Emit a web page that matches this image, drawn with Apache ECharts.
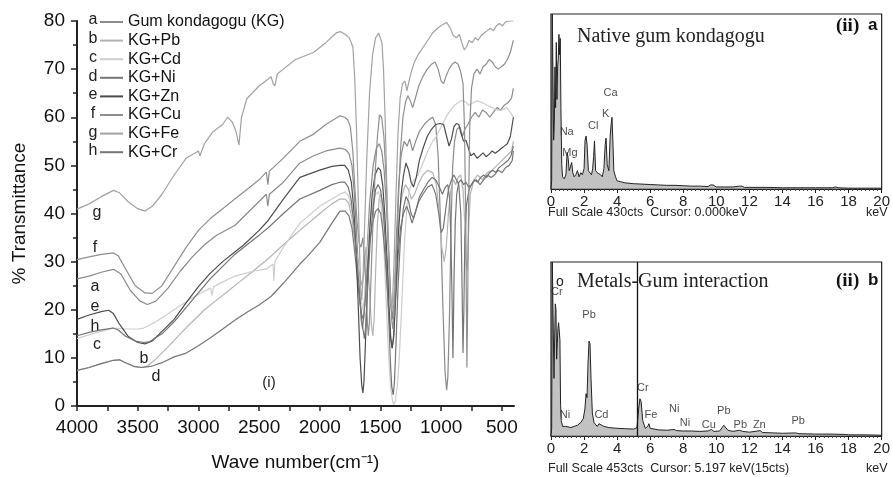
<!DOCTYPE html>
<html>
<head>
<meta charset="utf-8">
<script src="https://cdn.jsdelivr.net/npm/echarts@6/dist/echarts.min.js"></script>
<style>
  html, body { margin: 0; padding: 0; background: #fff; }
  #chart { width: 893px; height: 477px; }
</style>
</head>
<body>
<div id="chart"></div>
<script>
// FTIR spectra: [wave number cm-1, % transmittance]
var seriesNames = ["Gum kondagogu (KG)", "KG+Pb", "KG+Cd", "KG+Ni", "KG+Zn", "KG+Cu", "KG+Fe", "KG+Cr"];
var seriesLetters = ["a", "b", "c", "d", "e", "f", "g", "h"];
var seriesColors = ["#8a8a8a", "#b3b3b3", "#cdcdcd", "#767676", "#4d4d4d", "#8f8f8f", "#a2a2a2", "#747474"];

var ftirA = [[4000,26.4],[3900,27],[3800,27.8],[3700,28.4],[3640,27.5],[3560,24],[3480,21.8],[3420,21.1],[3350,21.8],[3250,24.5],[3150,28],[3050,31],[2950,33.5],[2850,35.5],[2700,37.5],[2600,40],[2500,42.5],[2440,44],[2428,41.5],[2415,44],[2300,46.5],[2164,50.5],[2050,52],[1950,53],[1834,53.6],
  [1790,53.3],[1760,52.5],[1735,50],[1715,44],[1695,35],[1675,25],[1660,18],[1648,16],[1635,19],[1615,30],[1590,42],[1560,50],[1535,53.5],[1510,54.5],[1490,53],[1470,49],[1450,41],[1430,30],[1412,21],[1400,18],[1388,22],[1370,34],[1350,46],[1330,52],[1305,55],[1280,54],[1260,55.5],[1235,53],[1210,55],[1180,57],[1140,58.5],[1100,59.5],[1070,60],[1045,58.5],[1025,52],[1005,38],[985,20],[968,7],[955,3.3],[945,6],[932,18],[918,38],[905,50],[890,55],[870,57.5],[845,58],[825,56],[805,57.5],[780,58.5],[750,60],[720,61],[690,60],[660,61.5],[630,61],[600,60],[570,61],[540,62],[510,61.5],[480,62.5],[450,63],[420,64],[405,66]];
var ftirB = [[4000,7.4],[3900,8],[3800,8.8],[3700,9.5],[3650,9.6],[3600,9],[3530,8.3],[3480,8],[3420,8.3],[3350,9.8],[3250,12.3],[3150,15],[3050,17.5],[2950,20],[2850,22],[2750,24],[2650,26],[2550,28],[2430,30.5],[2300,33.5],[2164,36.5],[2000,40],[1900,42],[1834,43],
  [1790,43],[1760,42],[1735,39],[1710,34],[1690,30],[1670,27],[1652,25],[1635,28],[1620,33],[1605,30],[1590,24],[1575,17],[1563,14.6],[1552,18],[1540,28],[1525,38],[1510,43],[1495,44],[1478,41],[1460,35],[1440,28],[1420,22],[1402,20],[1385,24],[1365,33],[1345,40],[1320,44],[1295,46],[1270,45],[1245,43],[1220,44],[1190,46],[1150,48],[1110,49],[1070,48.5],[1040,46],[1015,40],[995,33],[975,30],[958,33],[940,40],[920,45],[900,47],[880,46],[860,47.5],[840,48],[820,45],[805,38],[795,30],[786,28],[776,35],[760,44],[730,47],[700,48],[660,47],[620,48.5],[580,49],[540,50],[500,51],[460,52],[420,53],[405,55]];
var ftirC = [[4000,14],[3900,14.8],[3800,15.5],[3700,16.2],[3600,16],[3500,16],[3450,16.2],[3350,17.5],[3200,20],[3050,22.5],[2900,24.5],[2888,23],[2875,24.8],[2700,27],[2550,28],[2435,28.5],[2385,29.5],[2378,26],[2370,30],[2300,33],[2164,38],[2000,41.5],[1834,44],
  [1790,44.5],[1760,43.5],[1740,41],[1720,38],[1700,33],[1680,27],[1660,22],[1645,20],[1630,23],[1610,31],[1590,38],[1565,42],[1540,44],[1515,44.5],[1495,42],[1475,35],[1460,26],[1445,17],[1430,9],[1415,3.5],[1400,1],[1390,0.3],[1378,1],[1362,4],[1345,10],[1330,18],[1318,25],[1300,35],[1280,42],[1255,45.5],[1225,47],[1190,48],[1150,50.5],[1110,53],[1070,55],[1040,56],[1010,57.5],[980,59],[950,60.5],[920,61.5],[890,62.5],[860,63],[830,63.5],[800,63.2],[770,62.5],[740,63],[700,63.4],[660,63],[620,62.5],[580,62],[540,61.5],[500,61.5],[460,62],[430,61],[405,60]];
var ftirD = [[4000,7.4],[3900,8],[3800,8.8],[3700,9.5],[3650,9.6],[3600,9],[3530,8.2],[3460,8],[3380,8.3],[3300,9],[3200,10.2],[3100,11],[3000,12.5],[2900,14.2],[2800,16],[2700,17.8],[2600,19.5],[2500,21],[2400,22.8],[2300,25.5],[2164,29.5],[2106,31],[2000,34],[1900,38],[1834,40.5],
  [1790,40.5],[1760,39.5],[1735,37],[1712,32],[1692,27],[1672,22],[1655,19],[1642,18],[1628,21],[1610,28],[1590,34],[1565,38],[1540,40.5],[1518,41],[1498,40],[1478,36],[1458,30],[1438,22],[1420,15],[1405,12],[1392,14],[1375,22],[1355,31],[1335,37],[1310,40],[1285,41.5],[1262,40],[1240,38],[1215,40],[1185,42.5],[1150,44],[1110,45.5],[1075,46],[1045,44],[1020,40],[1000,36],[982,37],[962,41],[940,45],[915,47],[895,48],[875,47],[855,46],[838,40],[828,25],[820,11],[813,20],[805,35],[790,42],[770,45],[740,46.5],[710,47],[680,46],[650,47],[620,48],[590,47.5],[560,48],[530,49],[500,48.5],[470,49.5],[440,50],[415,51],[405,53]];
var ftirE = [[4000,18],[3900,18.9],[3800,19.6],[3740,19.9],[3700,19.2],[3650,17],[3580,14.5],[3500,13.2],[3440,12.9],[3380,13.5],[3300,15.5],[3200,18],[3100,21.5],[3000,24.8],[2905,27.5],[2800,30],[2700,32],[2625,33.5],[2500,36.5],[2427,38.5],[2300,43],[2164,47.5],[2000,49],[1900,49.8],[1834,50],
  [1795,50],[1765,49],[1740,46.5],[1720,41],[1700,32],[1682,20],[1668,10],[1655,4.5],[1645,2.7],[1636,5],[1624,13],[1608,25],[1590,36],[1568,44],[1545,48],[1520,49.5],[1500,49],[1482,46],[1465,40],[1447,31],[1430,21],[1415,14],[1403,12],[1390,15],[1372,25],[1352,36],[1330,44],[1310,48],[1290,50.5],[1268,49],[1248,46.5],[1228,45.5],[1205,47.5],[1180,51],[1150,53.5],[1115,56],[1080,57.5],[1045,58.5],[1010,58.7],[980,58.5],[955,56],[935,54],[915,55.5],[895,58],[875,58.7],[855,58.5],[835,56.5],[815,55],[795,55.2],[775,53.5],[755,52],[730,52.5],[705,51.5],[680,52],[655,52.6],[630,51.8],[605,52.3],[580,53],[555,52.5],[530,53],[505,53.5],[480,54],[455,54.5],[430,56],[405,60]];
var ftirF = [[4000,30.4],[3900,31],[3800,31.5],[3700,31.8],[3660,31.2],[3600,28.5],[3520,25],[3440,23.5],[3380,23.4],[3300,25],[3200,29],[3100,33],[3000,36.5],[2900,39],[2800,41],[2700,43],[2600,45],[2500,47],[2440,48.6],[2428,46],[2415,48.8],[2300,51.5],[2164,55],[2050,56.5],[1950,58.5],[1834,60.3],
  [1795,60],[1770,59.5],[1748,58],[1728,53],[1710,45],[1692,38],[1675,34],[1660,33],[1645,35],[1630,30],[1618,24],[1607,17],[1600,14.6],[1592,17],[1580,25],[1565,36],[1545,48],[1525,56],[1508,60.5],[1490,60],[1472,56],[1455,48],[1438,37],[1422,26],[1408,18],[1398,16],[1386,20],[1370,30],[1352,43],[1335,53],[1315,60],[1295,63],[1275,64.5],[1255,63.5],[1235,62],[1212,64],[1185,66.5],[1150,68.5],[1115,70],[1080,71],[1050,71.5],[1025,70],[1000,67.5],[980,67],[960,68.5],[935,70],[910,71],[885,71.5],[860,71],[840,69.5],[820,67],[808,58],[798,40],[792,20],[788,8],[783,18],[775,40],[765,58],[750,66],[730,69],[705,70],[680,69],[655,70.5],[630,71],[605,72],[580,71.5],[555,70.5],[530,70],[505,70.5],[480,71],[455,72],[430,73.5],[405,76]];
var ftirG = [[4000,40.9],[3900,42],[3800,43.5],[3700,44.8],[3650,44.3],[3580,42.5],[3500,41],[3440,40.5],[3380,41.5],[3300,44],[3200,48],[3100,51.5],[3000,53],[2987,52],[2950,54.5],[2880,57],[2800,58.5],[2760,60],[2720,59],[2690,57],[2666,54.2],[2645,60],[2600,63.9],[2500,66.5],[2400,68.4],[2385,67],[2370,66.5],[2350,69],[2300,70],[2200,72],[2100,73],[2050,73.5],[1950,75.5],[1860,77.6],[1830,77.8],
  [1790,77.2],[1760,76.6],[1740,75.5],[1727,74.5],[1712,68],[1698,58],[1685,45],[1672,32],[1662,24],[1655,22],[1645,26],[1630,38],[1612,52],[1590,65],[1565,73],[1540,76.5],[1515,77.5],[1500,77.3],[1488,75.5],[1475,70],[1462,60],[1450,48],[1438,35],[1425,25],[1412,20],[1400,22],[1388,30],[1372,44],[1355,57],[1338,64],[1318,67],[1298,67.5],[1283,65.5],[1265,67.5],[1245,69.5],[1220,71.5],[1190,73],[1150,74.5],[1110,76],[1070,77.5],[1030,78.5],[990,79.2],[955,79.7],[925,78.5],[900,77],[875,76.5],[850,77.2],[830,75.5],[810,74],[790,74.7],[770,76],[745,75.5],[720,76.5],[695,76],[670,77],[645,77.5],[620,78],[595,78.5],[570,78],[545,79],[520,79.5],[495,79],[470,79.8],[445,80],[420,80],[405,80]];
var ftirH = [[4000,14.6],[3900,15.3],[3800,15.8],[3704,16.2],[3660,15.8],[3600,14.5],[3520,13.5],[3450,13.2],[3400,13.4],[3300,15],[3200,17.5],[3100,20.5],[3000,23.5],[2900,26.5],[2800,29],[2700,31.5],[2600,33.5],[2500,35.5],[2427,37],[2300,40],[2164,43],[2000,44.8],[1900,46],[1834,46.5],
  [1795,46.5],[1765,45.5],[1742,43],[1720,38],[1700,32],[1680,26],[1662,20],[1645,16],[1632,14],[1620,17],[1605,25],[1585,34],[1562,41],[1540,45],[1520,46],[1500,45],[1480,41.5],[1462,35],[1445,26],[1430,17],[1418,9],[1407,4],[1395,2.3],[1385,5],[1372,13],[1355,25],[1335,35],[1312,41],[1290,43.5],[1268,42.5],[1248,40],[1228,39],[1205,41],[1178,43.5],[1145,45],[1110,46.5],[1075,47.5],[1045,47],[1015,45.5],[990,44],[965,45.5],[945,46],[930,43],[920,35],[912,25],[906,15],[903,10],[899,17],[893,28],[884,38],[872,44],[855,46.5],[835,47],[815,46],[795,46.5],[775,45.5],[750,46],[725,47],[700,46.5],[675,47.5],[650,48],[625,47.5],[600,48.5],[575,49],[550,48.5],[525,49.5],[500,50],[475,50.5],[450,51],[425,52],[405,54]];
var ftirData = [ftirA, ftirB, ftirC, ftirD, ftirE, ftirF, ftirG, ftirH];

var waveTicks = [4000, 3750, 3500, 3250, 3000, 2750, 2500, 2250, 2000, 1750, 1500, 1250, 1000, 750, 500];
var waveLabels = [4000, 3500, 3000, 2500, 2000, 1500, 1000, 500];

// EDX spectra: [keV, counts]
var edxNative = [[0,0],[0.04,20],[0.08,430],[0.13,430],[0.16,120],[0.2,160],[0.24,300],[0.28,200],[0.32,360],[0.36,220],[0.4,300],[0.44,320],[0.48,380],[0.52,330],[0.56,370],[0.6,200],[0.65,60],[0.7,30],[0.8,25],[0.9,35],[0.98,90],[1.04,75],[1.1,45],[1.18,55],[1.25,65],[1.32,40],[1.4,30],[1.5,35],[1.6,45],[1.7,30],[1.8,40],[1.9,35],[2.0,50],[2.06,120],[2.12,130],[2.18,110],[2.26,45],[2.35,40],[2.45,35],[2.52,50],[2.58,80],[2.63,118],[2.7,45],[2.8,40],[2.9,42],[3.0,35],[3.1,30],[3.2,50],[3.28,110],[3.33,125],[3.4,60],[3.5,45],[3.58,130],[3.64,160],[3.69,176],[3.74,120],[3.8,45],[3.9,30],[4.0,20],[4.2,18],[4.5,15],[5,13],[5.5,12],[6,11],[6.5,10],[7,9],[7.5,9],[8,8],[8.5,7],[9,7],[9.5,6],[9.65,10],[9.8,10],[10,5],[10.5,5],[11,5],[11.4,7],[11.55,7],[11.7,4],[12,4],[13,4],[14,3],[15,3],[16,3],[17,3],[17.2,5],[17.4,3],[18,2],[19,2],[20,2]];
var edxMetals = [[0,0],[0.04,20],[0.08,453],[0.14,453],[0.18,150],[0.22,250],[0.26,344],[0.3,330],[0.34,200],[0.38,240],[0.42,280],[0.46,295],[0.5,295],[0.54,250],[0.58,80],[0.62,40],[0.7,25],[0.8,22],[0.9,25],[1.0,20],[1.2,22],[1.4,25],[1.6,28],[1.8,35],[1.95,45],[2.05,70],[2.12,110],[2.18,100],[2.24,190],[2.3,247],[2.36,240],[2.42,150],[2.5,60],[2.6,35],[2.7,30],[2.8,25],[2.9,32],[3.0,28],[3.2,25],[3.5,22],[4,20],[4.5,19],[5.0,18],[5.2,22],[5.3,70],[5.38,97],[5.45,90],[5.55,40],[5.7,20],[5.85,25],[5.92,32],[6.0,20],[6.5,16],[7,15],[7.45,17],[7.6,14],[8,13],[8.5,13],[9,12],[9.5,13],[9.7,17],[9.85,12],[10.2,13],[10.45,28],[10.55,30],[10.7,15],[11,12],[11.4,15],[11.6,12],[12,10],[12.5,13],[12.65,14],[12.8,9],[13.5,8],[14,7],[14.8,8],[15,6],[16,5],[17,5],[17.8,4],[18,3],[19,3],[20,2]];
var cursorKev = 5.197;

var peakLabelsNative = [["Na",0.95,140],["Mg",1.15,88],["Cl",2.55,155],["K",3.3,185],["Ca",3.6,235]];
var peakLabelsMetals = [["Cr",0.35,375],["Pb",2.3,315],["Ni",0.85,55],["Cd",3.05,55],["Cr",5.55,125],["Fe",6.05,55],["Ni",7.45,70],["Ni",8.1,35],["Cu",9.55,30],["Pb",10.45,65],["Pb",11.45,30],["Zn",12.6,30],["Pb",14.95,40]];

var FONT = "'Liberation Sans', Arial, sans-serif";
var SERIF = "'Liberation Serif', 'Times New Roman', serif";

var chartDom = document.getElementById("chart");
var myChart = echarts.init(chartDom, null, { renderer: "canvas" });

var series = ftirData.map(function (d, i) {
  return {
    name: seriesNames[i],
    type: "line",
    xAxisIndex: 0,
    yAxisIndex: 0,
    data: d,
    showSymbol: false,
    symbol: "none",
    lineStyle: { color: seriesColors[i], width: 1.2 },
    itemStyle: { color: seriesColors[i] },
    z: 2
  };
});

series.push({
  type: "line",
  xAxisIndex: 1,
  yAxisIndex: 1,
  data: edxNative,
  symbol: "none",
  lineStyle: { color: "#222", width: 1 },
  areaStyle: { color: "#9a9a9a", opacity: 0.6 }
});
series.push({
  type: "line",
  xAxisIndex: 2,
  yAxisIndex: 2,
  data: edxMetals,
  symbol: "none",
  lineStyle: { color: "#222", width: 1 },
  areaStyle: { color: "#9a9a9a", opacity: 0.6 },
  markLine: {
    silent: true,
    symbol: "none",
    label: { show: false },
    lineStyle: { color: "#111", width: 1.3, type: "solid" },
    data: [{ xAxis: cursorKev }]
  }
});

// peak labels on EDX panels
function peakSeries(list, idx) {
  return {
    type: "scatter",
    xAxisIndex: idx,
    yAxisIndex: idx,
    symbolSize: 0,
    data: list.map(function (p) { return { value: [p[1], p[2]], name: p[0] }; }),
    label: { show: true, formatter: "{b}", position: "inside", fontSize: 11, color: "#222", fontFamily: FONT },
    silent: true
  };
}
series.push(peakSeries(peakLabelsNative, 1));
series.push(peakSeries(peakLabelsMetals, 2));

var graphics = [];
var letterPos = [[95,287],[144,359],[97,345],[156,377],[95,307],[95,248],[97,213],[95,327]];
seriesLetters.forEach(function (l, i) {
  graphics.push({ type: "text", x: 93, y: 20 + i * 18.7, style: { text: l, fill: "#222", font: "16px " + FONT, textAlign: "center", textVerticalAlign: "middle" } });
  graphics.push({ type: "text", x: letterPos[i][0], y: letterPos[i][1], style: { text: l, fill: "#222", font: "16px " + FONT, textAlign: "center", textVerticalAlign: "middle" } });
});
graphics.push({ type: "text", x: 269, y: 383, style: { text: "(i)", fill: "#222", font: "15px " + FONT, textAlign: "center", textVerticalAlign: "middle" } });
graphics.push({ type: "text", x: 577, y: 37, style: { text: "Native gum kondagogu", fill: "#222", font: "20px " + SERIF, textVerticalAlign: "middle" } });
graphics.push({ type: "text", x: 836, y: 26, style: { text: "(ii)", fill: "#111", font: "bold 19px " + SERIF, textVerticalAlign: "middle" } });
graphics.push({ type: "text", x: 868, y: 25, style: { text: "a", fill: "#111", font: "bold 17px " + FONT, textVerticalAlign: "middle" } });
graphics.push({ type: "text", x: 548, y: 213, style: { text: "Full Scale 430cts  Cursor: 0.000keV", fill: "#222", font: "12.5px " + FONT, textVerticalAlign: "middle" } });
graphics.push({ type: "text", x: 866, y: 213, style: { text: "keV", fill: "#222", font: "12.5px " + FONT, textVerticalAlign: "middle" } });
graphics.push({ type: "text", x: 556, y: 282, style: { text: "o", fill: "#222", font: "14px " + FONT, textVerticalAlign: "middle" } });
graphics.push({ type: "text", x: 577, y: 282, style: { text: "Metals-Gum interaction", fill: "#222", font: "20px " + SERIF, textVerticalAlign: "middle" } });
graphics.push({ type: "text", x: 836, y: 281, style: { text: "(ii)", fill: "#111", font: "bold 19px " + SERIF, textVerticalAlign: "middle" } });
graphics.push({ type: "text", x: 868, y: 280, style: { text: "b", fill: "#111", font: "bold 17px " + FONT, textVerticalAlign: "middle" } });
graphics.push({ type: "text", x: 548, y: 469, style: { text: "Full Scale 453cts  Cursor: 5.197 keV(15cts)", fill: "#222", font: "12.5px " + FONT, textVerticalAlign: "middle" } });
graphics.push({ type: "text", x: 866, y: 469, style: { text: "keV", fill: "#222", font: "12.5px " + FONT, textVerticalAlign: "middle" } });

function edxXAxis(gridIndex) {
  return {
    type: "value",
    gridIndex: gridIndex,
    min: 0,
    max: 20,
    interval: 2,
    axisLine: { show: true, lineStyle: { color: "#222", width: 1 } },
    axisTick: { show: true, length: 4, lineStyle: { color: "#222" } },
    minorTick: { show: true, splitNumber: 8, length: 2, lineStyle: { color: "#444" } },
    axisLabel: { fontSize: 15, color: "#222", margin: 5, fontFamily: FONT },
    splitLine: { show: false }
  };
}
function edxYAxis(gridIndex, max) {
  return { type: "value", gridIndex: gridIndex, min: 0, max: max, show: false };
}

var option = {
  animation: false,
  backgroundColor: "#fff",
  textStyle: { fontFamily: FONT },
  legend: {
    orient: "vertical",
    left: 95,
    top: 9,
    itemWidth: 23,
    itemHeight: 2,
    itemGap: 2.6,
    icon: "rect",
    selectedMode: false,
    data: seriesNames,
    textStyle: { fontSize: 16, color: "#111", lineHeight: 16, fontFamily: FONT }
  },
  grid: [
    { left: 77, right: 379, top: 21, bottom: 66 },
    { left: 551, right: 8, top: 14, height: 175, show: true, borderColor: "#222", borderWidth: 1.2 },
    { left: 551, right: 8, top: 262, height: 174, show: true, borderColor: "#222", borderWidth: 1.2 }
  ],
  xAxis: [
    {
      type: "value",
      gridIndex: 0,
      min: 400,
      max: 4000,
      inverse: true,
      name: "Wave number(cm\u207B\u00B9)",
      nameLocation: "middle",
      nameGap: 47,
      nameTextStyle: { fontSize: 19, color: "#111", fontFamily: FONT },
      axisLine: { show: true, lineStyle: { color: "#222", width: 2 } },
      axisTick: { show: true, length: 5, customValues: waveTicks, lineStyle: { color: "#222", width: 1.5 } },
      axisLabel: {
        fontSize: 19, color: "#111", margin: 12, customValues: waveLabels, fontFamily: FONT,
        formatter: function (v) { return String(v); }
      },
      splitLine: { show: false }
    },
    edxXAxis(1),
    edxXAxis(2)
  ],
  yAxis: [
    {
      type: "value",
      gridIndex: 0,
      min: 0,
      max: 80,
      interval: 10,
      name: "% Transmittance",
      nameLocation: "middle",
      nameGap: 48,
      nameTextStyle: { fontSize: 19, color: "#111", fontFamily: FONT },
      axisLine: { show: true, lineStyle: { color: "#222", width: 2 } },
      axisTick: { show: true, length: 6, lineStyle: { color: "#222", width: 1.5 } },
      minorTick: { show: true, splitNumber: 2, length: 4, lineStyle: { color: "#222", width: 1.5 } },
      axisLabel: { fontSize: 19, color: "#111", margin: 12, fontFamily: FONT },
      splitLine: { show: false }
    },
    edxYAxis(1, 430),
    edxYAxis(2, 453)
  ],
  graphic: graphics,
  series: series
};

myChart.setOption(option);
</script>
</body>
</html>
